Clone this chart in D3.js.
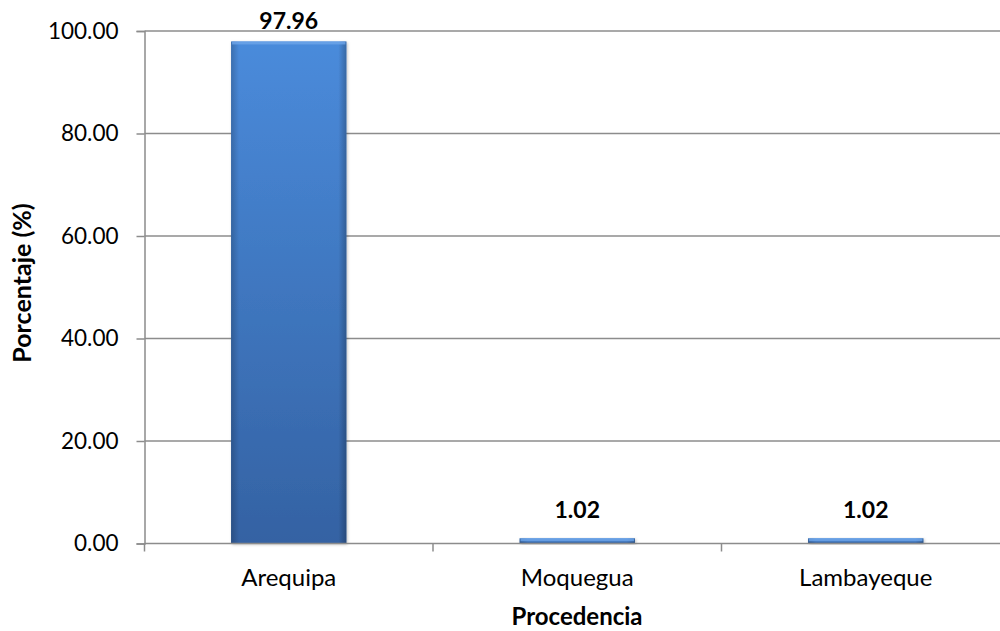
<!DOCTYPE html>
<html>
<head>
<meta charset="utf-8">
<script src="https://cdn.jsdelivr.net/npm/d3@7"></script>
<style>
  html, body { margin: 0; padding: 0; background: #fff; }
  svg { display: block; font-family: Lato, "Open Sans", sans-serif; }
</style>
</head>
<body>
<svg id="chart" width="1000" height="631"></svg>
<script>
// Procedencia de los encuestados (%)
const categories = ["Arequipa", "Moquegua", "Lambayeque"];
const values = [97.96, 1.02, 1.02];
const yTicks = [0, 20, 40, 60, 80, 100];

const svg = d3.select("#chart");
const margin = { left: 144.5, right: -10, top: 31, bottom: 87.5 };
const W = 1000, H = 631;

const x = d3.scaleBand()
  .domain(categories)
  .range([margin.left, W - margin.right])
  .paddingInner(0.6)
  .paddingOuter(0.3);

const y = d3.scaleLinear()
  .domain([0, 100])
  .range([H - margin.bottom, margin.top]);

// bar gradients
const defs = svg.append("defs");
const gv = defs.append("linearGradient").attr("id", "barV")
  .attr("x1", 0).attr("y1", 0).attr("x2", 0).attr("y2", 1);
gv.append("stop").attr("offset", "0%").attr("stop-color", "#4a8bdb");
gv.append("stop").attr("offset", "100%").attr("stop-color", "#3462a3");
const gh = defs.append("linearGradient").attr("id", "barH")
  .attr("x1", 0).attr("y1", 0).attr("x2", 1).attr("y2", 0);
gh.append("stop").attr("offset", "0%").attr("stop-color", "#000").attr("stop-opacity", 0.2);
gh.append("stop").attr("offset", "7%").attr("stop-color", "#000").attr("stop-opacity", 0.0);
gh.append("stop").attr("offset", "93%").attr("stop-color", "#000").attr("stop-opacity", 0.0);
gh.append("stop").attr("offset", "100%").attr("stop-color", "#000").attr("stop-opacity", 0.25);
const shadow = defs.append("filter").attr("id", "soft")
  .attr("x", "-10%").attr("y", "-10%").attr("width", "120%").attr("height", "120%");
shadow.append("feDropShadow").attr("dx", 1).attr("dy", 1).attr("stdDeviation", 1.5)
  .attr("flood-color", "#000").attr("flood-opacity", 0.25);

// horizontal gridlines
svg.append("g").selectAll("line")
  .data(yTicks.filter(d => d > 0))
  .join("line")
  .attr("x1", margin.left).attr("x2", W)
  .attr("y1", d => y(d)).attr("y2", d => y(d))
  .attr("stroke", "#8c8c8c").attr("stroke-width", 1.5);

// y axis
const yAxis = svg.append("g")
  .attr("transform", `translate(${margin.left},0)`)
  .call(d3.axisLeft(y).tickValues(yTicks).tickFormat(d3.format(".2f")).tickSize(8).tickPadding(18));
yAxis.select(".domain").attr("stroke", "#8c8c8c").attr("stroke-width", 1.5);
yAxis.selectAll(".tick line").attr("stroke", "#8c8c8c").attr("stroke-width", 1.5);
yAxis.selectAll(".tick text").attr("fill", "#000").attr("font-size", 22.5)
  .attr("font-family", "Lato, sans-serif");

// bars
const data = categories.map((c, i) => ({ c, v: values[i] }));
const bars = svg.append("g").selectAll("g.bar")
  .data(data)
  .join("g").attr("class", "bar");
bars.append("rect")
  .attr("x", d => x(d.c)).attr("width", x.bandwidth())
  .attr("y", d => y(d.v)).attr("height", d => y(0) - y(d.v))
  .attr("fill", "url(#barV)").attr("filter", "url(#soft)");
bars.append("rect")
  .attr("x", d => x(d.c)).attr("width", x.bandwidth())
  .attr("y", d => y(d.v)).attr("height", d => y(0) - y(d.v))
  .attr("fill", "url(#barH)");
// bevel highlight at top
bars.append("rect")
  .attr("x", d => x(d.c) + 1).attr("width", x.bandwidth() - 2)
  .attr("y", d => y(d.v)).attr("height", d => Math.min(3, y(0) - y(d.v)))
  .attr("fill", "#6ea5e8").attr("opacity", 0.8);

// x axis
const xAxisY = y(0);
svg.append("line")
  .attr("x1", margin.left).attr("x2", W)
  .attr("y1", xAxisY).attr("y2", xAxisY)
  .attr("stroke", "#8c8c8c").attr("stroke-width", 1.5);
const step = x.step();
const bounds = categories.map((c, i) => margin.left + i * step);
svg.append("g").selectAll("line")
  .data(bounds)
  .join("line")
  .attr("x1", d => d).attr("x2", d => d)
  .attr("y1", xAxisY).attr("y2", xAxisY + 8)
  .attr("stroke", "#8c8c8c").attr("stroke-width", 1.5);
svg.append("g").selectAll("text")
  .data(categories)
  .join("text")
  .attr("x", d => x(d) + x.bandwidth() / 2)
  .attr("y", xAxisY + 42)
  .attr("text-anchor", "middle")
  .attr("font-size", 24)
  .attr("fill", "#000")
  .text(d => d);

// value labels (kept inside the top of the plot)
svg.append("g").selectAll("text")
  .data(data)
  .join("text")
  .attr("x", d => x(d.c) + x.bandwidth() / 2)
  .attr("y", d => Math.max(y(d.v) - 20, 29))
  .attr("text-anchor", "middle")
  .attr("font-size", 23)
  .attr("font-weight", "bold")
  .attr("fill", "#000")
  .text(d => d3.format(".2f")(d.v));

// axis titles
svg.append("text")
  .attr("x", 577).attr("y", 625)
  .attr("text-anchor", "middle")
  .attr("font-size", 24).attr("font-weight", "bold")
  .text("Procedencia");
svg.append("text")
  .attr("transform", `translate(31,${283}) rotate(-90)`)
  .attr("text-anchor", "middle")
  .attr("font-size", 25).attr("font-weight", "bold")
  .text("Porcentaje (%)");
</script>
</body>
</html>
